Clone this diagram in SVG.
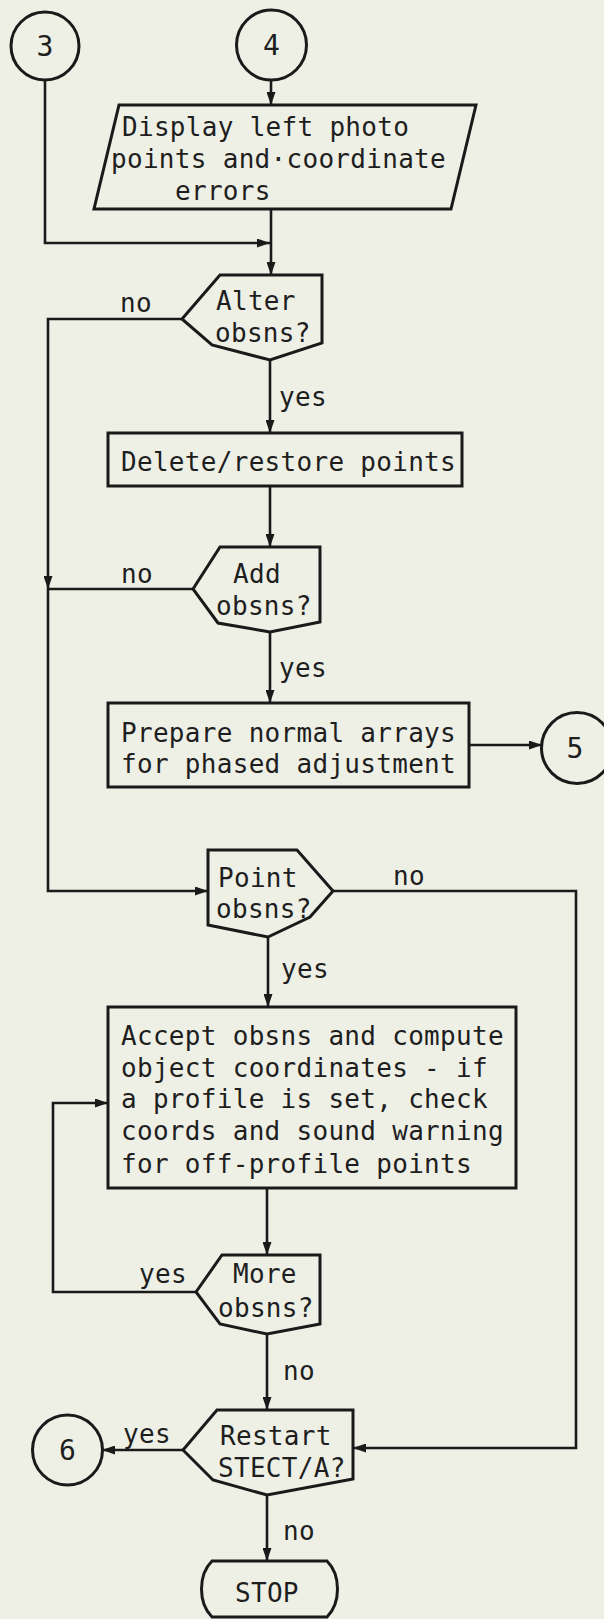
<svg xmlns="http://www.w3.org/2000/svg" width="604" height="1619" viewBox="0 0 604 1619">
<defs>
<marker id="ah" viewBox="0 0 13 9" refX="13" refY="4.5" markerWidth="13" markerHeight="9" markerUnits="userSpaceOnUse" orient="auto"><path d="M0,0 L13,4.5 L0,9 Z" fill="#1a1a1a"/></marker>
</defs>
<style>
.s{fill:none;stroke:#1a1a1a;stroke-width:3;stroke-linejoin:miter}
.k{fill:none;stroke:#1a1a1a;stroke-width:2.6}
.t{font-family:"DejaVu Sans Mono","Liberation Mono",monospace;font-size:26px;letter-spacing:0.3px;fill:#1e1e1e}
.n{font-family:"DejaVu Sans Mono","Liberation Mono",monospace;font-size:28px;fill:#1e1e1e;text-anchor:middle}
</style>
<rect width="604" height="1619" fill="#eef0e6"/>
<g id="connectors">
<path class="k" d="M45,80 V243 H270" marker-end="url(#ah)"/>
<path class="k" d="M271,80 V105" marker-end="url(#ah)"/>
<path class="k" d="M271,209 V275" marker-end="url(#ah)"/>
<path class="k" d="M182,319 H48 V589" marker-end="url(#ah)"/>
<path class="k" d="M48,589 V891 H208" marker-end="url(#ah)"/>
<path class="k" d="M270,360 V433" marker-end="url(#ah)"/>
<path class="k" d="M270,486 V547" marker-end="url(#ah)"/>
<path class="k" d="M193,589 H48"/>
<path class="k" d="M270,632 V703" marker-end="url(#ah)"/>
<path class="k" d="M469,745 H542" marker-end="url(#ah)"/>
<path class="k" d="M268,937 V1007" marker-end="url(#ah)"/>
<path class="k" d="M333,891 H576 V1448 H353" marker-end="url(#ah)"/>
<path class="k" d="M267,1188 V1255" marker-end="url(#ah)"/>
<path class="k" d="M196,1292 H53 V1103 H108" marker-end="url(#ah)"/>
<path class="k" d="M267,1334 V1410" marker-end="url(#ah)"/>
<path class="k" d="M183,1450 H102" marker-end="url(#ah)"/>
<path class="k" d="M267,1495 V1561" marker-end="url(#ah)"/>
<text class="t" x="120" y="312">no</text>
<text class="t" x="279" y="406">yes</text>
<text class="t" x="121" y="583">no</text>
<text class="t" x="279" y="677">yes</text>
<text class="t" x="393" y="885">no</text>
<text class="t" x="281" y="978">yes</text>
<text class="t" x="139" y="1283">yes</text>
<text class="t" x="283" y="1380">no</text>
<text class="t" x="123" y="1443">yes</text>
<text class="t" x="283" y="1540">no</text>
</g>
<g id="c3"><circle class="s" cx="45" cy="46" r="34"/><text class="n" x="45" y="56">3</text></g>
<g id="c4"><circle class="s" cx="271.5" cy="45" r="35"/><text class="n" x="271.5" y="55">4</text></g>
<g id="display"><polygon class="s" points="119,105 476,105 451,209 94,209"/>
<text class="t" x="122" y="136">Display left photo</text>
<text class="t" x="111" y="168">points and·coordinate</text>
<text class="t" x="175" y="200">errors</text></g>
<g id="alter"><polygon class="s" points="182,319 220,275 322,275 322,343 270,360 212,345"/>
<text class="t" x="216" y="310">Alter</text><text class="t" x="215" y="342">obsns?</text></g>
<g id="delete"><rect class="s" x="108" y="433" width="354" height="53"/>
<text class="t" x="121" y="471">Delete/restore points</text></g>
<g id="add"><polygon class="s" points="193,589 220,547 320,547 320,622 270,632 218,623"/>
<text class="t" x="233" y="583">Add</text><text class="t" x="216" y="615">obsns?</text></g>
<g id="prepare"><rect class="s" x="108" y="703" width="361" height="84"/>
<text class="t" x="121" y="742">Prepare normal arrays</text>
<text class="t" x="121" y="773">for phased adjustment</text></g>
<g id="c5"><circle class="s" cx="577" cy="748" r="35.5"/><text class="n" x="575" y="758">5</text></g>
<g id="point"><polygon class="s" points="208,850 297,850 333,891 310,917 268,937 208,925"/>
<text class="t" x="218" y="887">Point</text><text class="t" x="216" y="918">obsns?</text></g>
<g id="accept"><rect class="s" x="108" y="1007" width="408" height="181"/>
<text class="t" x="121" y="1045">Accept obsns and compute</text>
<text class="t" x="121" y="1077">object coordinates - if</text>
<text class="t" x="121" y="1108">a profile is set, check</text>
<text class="t" x="121" y="1140">coords and sound warning</text>
<text class="t" x="121" y="1173">for off-profile points</text></g>
<g id="more"><polygon class="s" points="196,1292 222,1255 320,1255 320,1324 267,1334 220,1324"/>
<text class="t" x="233" y="1283">More</text><text class="t" x="218" y="1317">obsns?</text></g>
<g id="restart"><polygon class="s" points="183,1450 217,1410 353,1410 353,1479 267,1495 213,1480"/>
<text class="t" x="220" y="1445">Restart</text><text class="t" x="218" y="1477">STECT/A?</text></g>
<g id="c6"><circle class="s" cx="67.5" cy="1450" r="35"/><text class="n" x="67.5" y="1460">6</text></g>
<g id="stop"><path class="s" d="M212,1561 H327 C341,1575 341,1603 327,1617 H212 C198,1603 198,1575 212,1561 Z"/>
<text class="t" x="235" y="1602">STOP</text></g>
</svg>
